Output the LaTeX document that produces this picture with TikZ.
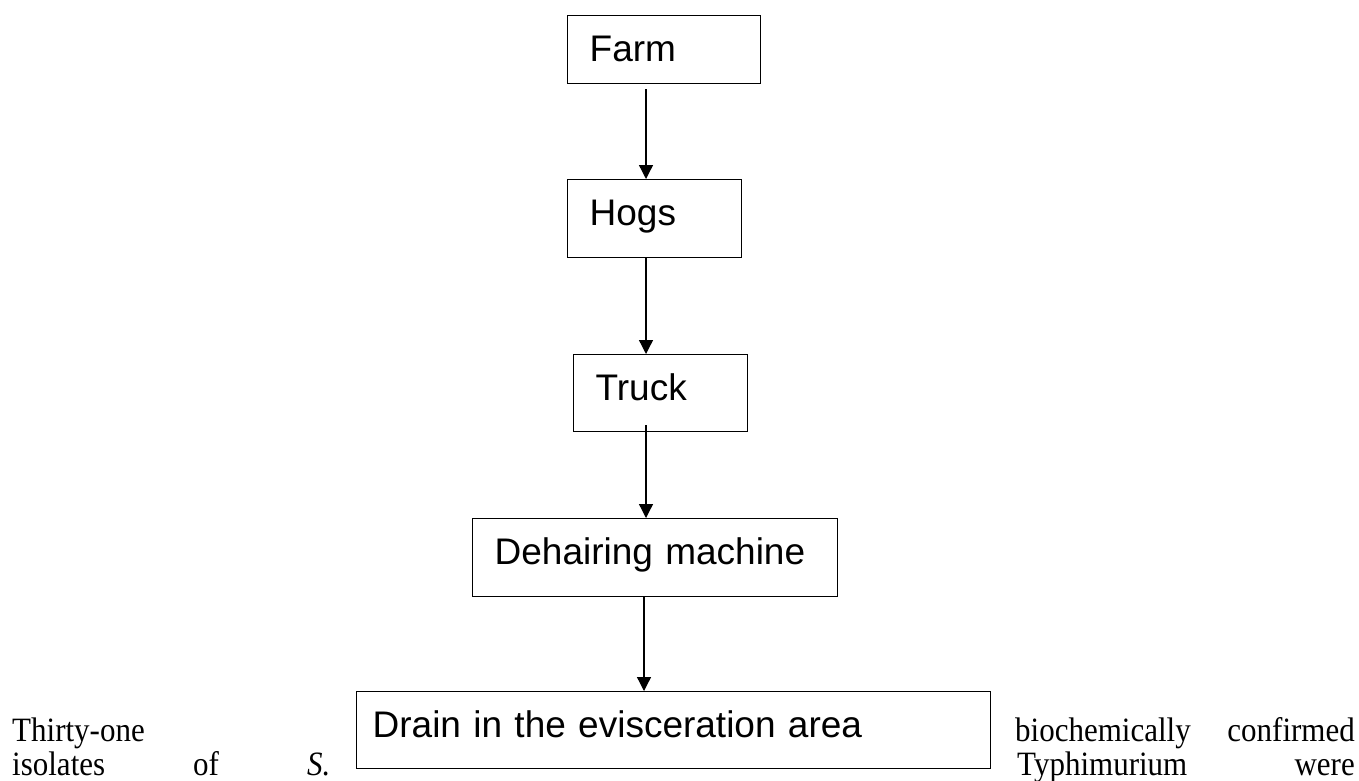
\documentclass[tikz,border=0pt]{standalone}
\usepackage{fontspec}
\setmainfont{Liberation Serif}
\newfontfamily\boxfont{Liberation Sans}
\usetikzlibrary{arrows.meta}
\newcommand{\tallword}[1]{\scalebox{1}[1.1]{#1}}
\begin{document}
\begin{tikzpicture}[
        x=1pt, y=-1pt,
        >={Triangle[length=14pt,width=14pt]},
        stage/.style={draw, line width=1.3pt, anchor=north west, inner ysep=0pt, inner xsep=22pt,
            align=left, text height=46pt, font=\boxfont\fontsize{37}{44}\selectfont},
        word/.style={inner sep=0pt, anchor=base west, font=\fontsize{31}{36}\selectfont},
        wordr/.style={word, anchor=base east},
        flow/.style={draw, ->, line width=1.3pt},
    ]
    \useasboundingbox (0,0) rectangle (1359,780);
    % the chain of stages
    \node[stage, text width=149pt, text depth=22pt](farm) at (567,15){Farm};
    \node[stage, text width=130pt, text depth=32pt](hogs) at (567,179){Hogs};
    \node[stage, text width=130pt, text depth=31pt](truck) at (573,354){Truck};
    \node[stage, text width=321pt, text depth=32pt](dehairing) at (472,518){Dehairing machine};
    \node[stage, inner xsep=16pt, text width=602pt, text depth=31pt](drain) at (356,691){Drain in the evisceration area};
    \coordinate (spine) at (646,0);
    \coordinate (spinelow) at (644,0);
    \draw[flow] ([yshift=-5pt]farm.south -| spine) -- (hogs.north -| spine);
    \draw[flow] (hogs.south -| spine) -- (truck.north -| spine);
    \draw[flow] ([yshift=7pt]truck.south -| spine) -- (dehairing.north -| spine);
    \draw[flow] (dehairing.south -| spinelow) -- (drain.north -| spinelow);
    % running text around the box
    \node[word](thirty) at (12,741){\tallword{Thirty-one}};
    \node[word](bio) at (1015,741){\tallword{biochemically}};
    \node[wordr](confirmed) at (1355,741){\tallword{confirmed}};
    \node[word](isolates) at (12,775){\tallword{isolates}};
    \node[word](of) at (193,775){\tallword{of}};
    \node[word](species) at (307,775){\tallword{\textit{S.}}};
    \node[word](typhi) at (1017,775){\tallword{Typhimurium}};
    \node[wordr](were) at (1355,775){\tallword{were}};
\end{tikzpicture}
\end{document}
